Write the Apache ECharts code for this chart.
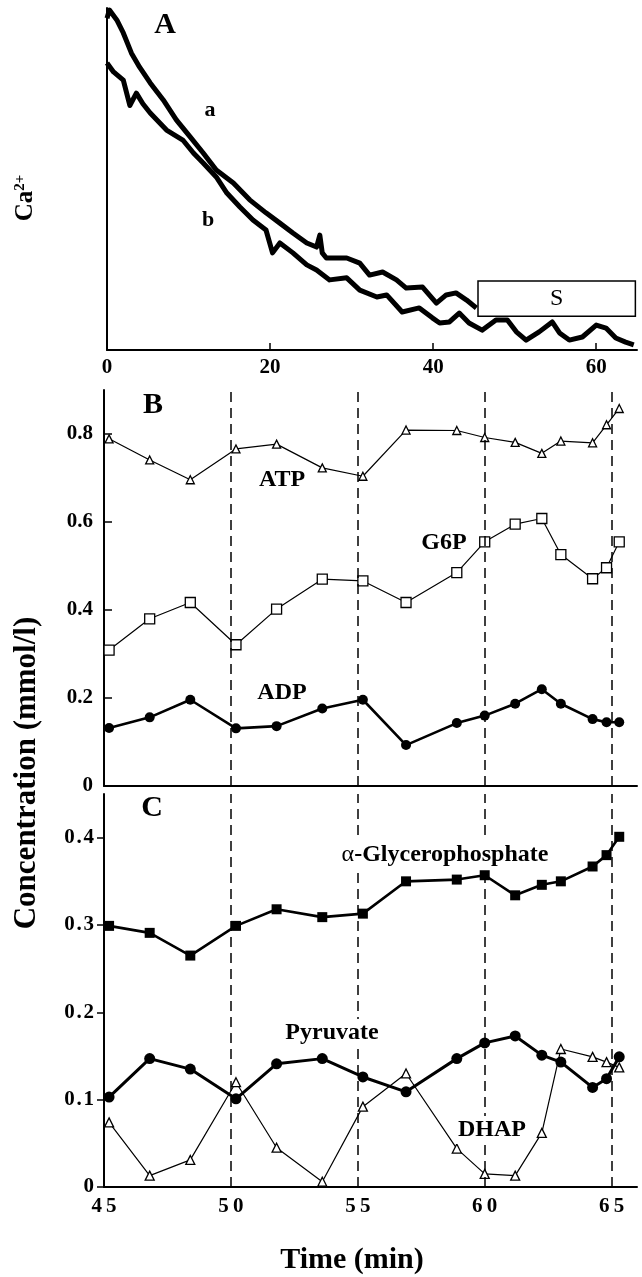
<!DOCTYPE html>
<html>
<head>
<meta charset="utf-8">
<script src="https://cdn.jsdelivr.net/npm/echarts@6/dist/echarts.min.js"></script>
<style>
html, body { margin: 0; padding: 0; background: #fff; }
#chart { width: 642px; height: 1277px; }
</style>
</head>
<body>
<div id="chart"></div>
<script>
// panel A - Ca2+ traces (arbitrary units)
var caTimeA = [0.0, 0.3, 1.2, 2.0, 3.0, 4.0, 5.3, 6.9, 8.5, 10.2, 11.8, 13.4, 15.5, 17.5, 19.5, 21.2, 22.8,
	24.5, 25.7, 26.1, 26.4, 26.9, 29.4, 31.0, 32.2, 33.8, 35.5, 36.7, 38.7, 40.4, 41.6, 42.8, 44.1, 45.3];
var caTraceA = [97, 99.4, 96.5, 92.7, 86.8, 82.7, 78.1, 73.1, 67.3, 62.3, 57.6, 52.6, 48.8, 43.9, 40.1, 37.1, 34.2,
	31.3, 30.1, 33.6, 28.4, 26.9, 26.9, 25.4, 21.9, 22.8, 20.5, 18.1, 18.4, 13.7, 16.1, 16.7, 14.6, 12.3];
var caTimeB = [0.0, 0.8, 2.0, 2.8, 3.6, 4.4, 5.3, 7.3, 9.3, 10.6, 11.8, 13.4, 14.7, 16.3, 17.9, 19.5, 20.3, 21.2,
	22.8, 24.5, 25.7, 27.3, 29.4, 31.0, 33.1, 34.3, 36.2, 38.3, 39.9, 40.8, 42.0, 43.2, 44.4, 46.0, 47.7,
	49.1, 50.2, 51.4, 53.0, 54.6, 55.5, 56.7, 58.3, 60.0, 61.2, 62.4, 63.6, 64.6];
var caTraceB = [83.9, 81.3, 78.9, 71.5, 75.1, 72.0, 69.3, 64.3, 61.4, 57.6, 54.7, 50.6, 45.9, 41.8, 38.0, 35.1, 28.4, 31.3,
	28.4, 24.9, 23.4, 20.5, 21.1, 17.5, 15.5, 16.1, 11.1, 12.3, 9.4, 7.9, 8.2, 10.8, 7.9, 5.8, 8.8,
	8.8, 5.3, 2.9, 5.3, 8.2, 5.0, 2.9, 3.8, 7.3, 6.4, 3.5, 2.3, 1.5];
var stimulusTime = [45.5, 64.8];
var stimulusLevel = [9.9, 20.2];
var timeTicksA = [0, 20, 40, 60];

// panels B and C - metabolite concentrations (mmol/l)
var sampleTimes = [45.2, 46.8, 48.4, 50.2, 51.8, 53.6, 55.2, 56.9, 58.9, 60.0, 61.2, 62.25, 63.0, 64.25, 64.8, 65.3];
var atp = [0.789, 0.741, 0.696, 0.766, 0.777, 0.723, 0.704, 0.809, 0.808, 0.792, 0.781, 0.756, 0.784, 0.780, 0.821, 0.858];
var g6p = [0.309, 0.380, 0.417, 0.321, 0.402, 0.470, 0.466, 0.417, 0.485, 0.555, 0.595, 0.608, 0.526, 0.471, 0.496, 0.555];
var adp = [0.132, 0.156, 0.196, 0.131, 0.136, 0.176, 0.196, 0.093, 0.143, 0.160, 0.187, 0.220, 0.187, 0.152, 0.145, 0.145];
var glyP = [0.299, 0.291, 0.265, 0.299, 0.318, 0.309, 0.313, 0.350, 0.352, 0.357, 0.334, 0.346, 0.350, 0.367, 0.380, 0.401];
var pyruvate = [0.103, 0.147, 0.135, 0.101, 0.141, 0.147, 0.126, 0.109, 0.147, 0.165, 0.173, 0.151, 0.143, 0.114, 0.124, 0.149];
var dhap = [0.074, 0.013, 0.031, 0.120, 0.045, 0.006, 0.092, 0.130, 0.044, 0.015, 0.013, 0.062, 0.158, 0.149, 0.143, 0.137];
var cycleMarks = [50, 55, 60, 65];
var timeTicks = [45, 50, 55, 60, 65];
var concTicksB = [0, 0.2, 0.4, 0.6, 0.8];
var concTicksC = [0, 0.1, 0.2, 0.3, 0.4];

var SERIF = 'Liberation Serif';

function zip(xs, ys){
	var out = [];
	for(var i = 0; i < xs.length; i++){
		out.push([xs[i], ys[i]]);
	}
	return out;
}

// the printed C-panel numbers are letter-spaced
function spaced(s, gap){
	return String(s).split('').join(gap);
}

function labelStyle(extra){
	var s = {color: '#000', fontFamily: SERIF, fontWeight: 'bold', fontSize: 21};
	for(var k in extra){ s[k] = extra[k]; }
	return s;
}

function text(str, x, y, size, extra){
	var style = {text: str, x: 0, y: 0, fill: '#000', fontFamily: SERIF, fontWeight: 'bold',
		fontSize: size, align: 'center', verticalAlign: 'middle'};
	for(var k in extra){ style[k] = extra[k]; }
	return {type: 'text', x: x, y: y, z: 100, style: style};
}

var dashed = {
	silent: true,
	symbol: ['none', 'none'],
	label: {show: false},
	lineStyle: {color: '#000', width: 1.5, type: [10, 6]},
	data: cycleMarks.map(function(v){ return {xAxis: v}; })
};

function metSeries(name, values, axis, opt){
	var s = {
		name: name,
		type: 'line',
		xAxisIndex: axis,
		yAxisIndex: axis,
		data: zip(sampleTimes, values),
		symbol: opt.symbol,
		symbolSize: opt.size,
		showSymbol: true,
		lineStyle: {color: '#000', width: opt.width},
		itemStyle: opt.open ? {color: '#fff', borderColor: '#000', borderWidth: 1.3} : {color: '#000'},
		z: opt.z || 3
	};
	if(opt.markLine){ s.markLine = dashed; }
	return s;
}

var axisLine = {onZero: false, lineStyle: {color: '#000', width: 2}};

var option = {
	animation: false,
	backgroundColor: '#fff',
	grid: [
		{left: 107, top: 8, width: 530, height: 342},
		{left: 104, top: 390, width: 533, height: 396},
		{left: 104, top: 794, width: 533, height: 393}
	],
	xAxis: [
		{
			gridIndex: 0, type: 'value', min: 0, max: 65, interval: 20,
			axisLine: axisLine,
			axisTick: {inside: true, length: 7, customValues: [20, 40, 60], lineStyle: {color: '#000', width: 1.5}},
			axisLabel: labelStyle({margin: 7, customValues: timeTicksA,
				formatter: function(v){ return timeTicksA.indexOf(v) >= 0 ? String(v) : ''; }}),
			splitLine: {show: false}
		},
		{
			gridIndex: 1, type: 'value', min: 45, max: 66, interval: 5,
			axisLine: axisLine, axisTick: {show: false}, axisLabel: {show: false}, splitLine: {show: false}
		},
		{
			gridIndex: 2, type: 'value', min: 45, max: 66, interval: 5,
			axisLine: axisLine, axisTick: {show: false},
			axisLabel: labelStyle({margin: 9, customValues: timeTicks,
				formatter: function(v){ return timeTicks.indexOf(v) >= 0 ? spaced(v, '\u2009') : ''; }}),
			splitLine: {show: false}
		}
	],
	yAxis: [
		{
			gridIndex: 0, type: 'value', min: 0, max: 100,
			axisLine: axisLine, axisTick: {show: false}, axisLabel: {show: false}, splitLine: {show: false}
		},
		{
			gridIndex: 1, type: 'value', min: 0, max: 0.9, interval: 0.2,
			axisLine: axisLine,
			axisTick: {inside: true, length: 8, customValues: concTicksB, lineStyle: {color: '#000', width: 1.5}},
			axisLabel: labelStyle({margin: 11, customValues: concTicksB,
				formatter: function(v){ return v === 0 ? '0' : (Math.abs(v - 0.9) < 1e-6 ? '' : v.toFixed(1)); }}),
			splitLine: {show: false}
		},
		{
			gridIndex: 2, type: 'value', min: 0, max: 0.45, interval: 0.1,
			axisLine: axisLine,
			axisTick: {inside: false, length: 7, customValues: concTicksC, lineStyle: {color: '#000', width: 1.5}},
			axisLabel: labelStyle({margin: 10, customValues: concTicksC,
				formatter: function(v){ return v === 0 ? '0' : (v > 0.42 ? '' : spaced(v.toFixed(1), '\u200a')); }}),
			splitLine: {show: false}
		}
	],
	series: [
		{
			name: 'a', type: 'line', xAxisIndex: 0, yAxisIndex: 0,
			data: zip(caTimeA, caTraceA), showSymbol: false,
			lineStyle: {color: '#000', width: 5, join: 'round'}
		},
		{
			name: 'b', type: 'line', xAxisIndex: 0, yAxisIndex: 0,
			data: zip(caTimeB, caTraceB), showSymbol: false,
			lineStyle: {color: '#000', width: 5, join: 'round'},
			markArea: {
				silent: true,
				itemStyle: {color: '#fff', borderColor: '#000', borderWidth: 1.5},
				label: {show: true, position: 'inside', formatter: 'S', color: '#000',
					fontFamily: SERIF, fontSize: 24},
				data: [[{xAxis: stimulusTime[0], yAxis: stimulusLevel[1]}, {xAxis: stimulusTime[1], yAxis: stimulusLevel[0]}]]
			}
		},
		metSeries('ATP', atp, 1, {symbol: 'triangle', size: 8, width: 1.2, open: true, markLine: true}),
		metSeries('G6P', g6p, 1, {symbol: 'rect', size: 10, width: 1.2, open: true}),
		metSeries('ADP', adp, 1, {symbol: 'circle', size: 10, width: 2.6}),
		metSeries('alpha-Glycerophosphate', glyP, 2, {symbol: 'rect', size: 10, width: 2.6, markLine: true}),
		metSeries('Pyruvate', pyruvate, 2, {symbol: 'circle', size: 11, width: 3}),
		metSeries('DHAP', dhap, 2, {symbol: 'triangle', size: 9, width: 1.2, open: true, z: 4})
	],
	graphic: [
		text('A', 165, 25, 30),
		text('B', 153, 405, 30),
		text('C', 152, 808, 30),
		text('a', 210, 110, 22),
		text('b', 208, 220, 22),
		text('ATP', 282, 480, 24),
		text('G6P', 444, 543, 24, {backgroundColor: '#fff', padding: [2, 2]}),
		text('ADP', 282, 693, 24),
		text('{g|\u03b1}{b|-Glycerophosphate}', 445, 855, 24, {
			backgroundColor: '#fff', padding: [2, 2],
			rich: {
				g: {fontFamily: SERIF, fontWeight: 'normal', fontSize: 24, fill: '#000'},
				b: {fontFamily: SERIF, fontWeight: 'bold', fontSize: 24, fill: '#000'}
			}
		}),
		text('Pyruvate', 332, 1033, 24, {backgroundColor: '#fff', padding: [2, 2]}),
		text('DHAP', 492, 1130, 24, {backgroundColor: '#fff', padding: [2, 2]}),
		text('Time (min)', 352, 1260, 30),
		{type: 'text', x: 27, y: 773, rotation: Math.PI / 2, z: 100,
			style: {text: 'Concentration (mmol/l)', fill: '#000', fontFamily: SERIF, fontWeight: 'bold',
				fontSize: 31, align: 'center', verticalAlign: 'middle'}},
		{type: 'text', x: 26, y: 198, rotation: Math.PI / 2, z: 100,
			style: {text: '{a|Ca}{s|2+}', align: 'center', verticalAlign: 'middle',
				rich: {
					a: {fontFamily: SERIF, fontWeight: 'bold', fontSize: 25, fill: '#000', lineHeight: 26},
					s: {fontFamily: SERIF, fontWeight: 'bold', fontSize: 15, fill: '#000', verticalAlign: 'top', lineHeight: 26}
				}}}
	]
};

var myChart = echarts.init(document.getElementById('chart'));
myChart.setOption(option);
</script>
</body>
</html>
